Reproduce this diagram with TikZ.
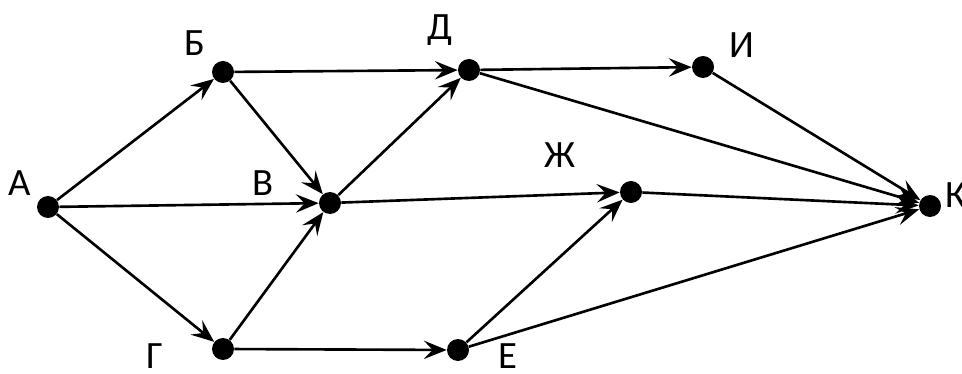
\documentclass[tikz,border=0pt]{standalone}
\usepackage{fontspec}
\setmainfont{Carlito}
\usetikzlibrary{arrows.meta}
\tikzset{
  vertex/.style={circle, fill=black, inner sep=0pt, minimum size=0.44cm},
  lbl/.style={inner sep=0pt, font=\fontsize{22}{26}\selectfont},
  arc/.style={line width=1.5pt, -{Stealth[length=13pt, width=10.5pt, inset=5pt]}}
}
\begin{document}
\begin{tikzpicture}[x=0.02cm, y=-0.02cm]
\useasboundingbox (0,0) rectangle (962,374);
\node[vertex] (A) at (48,207) {};
\node[vertex] (B) at (223,72) {};
\node[vertex] (V) at (330,203) {};
\node[vertex] (G) at (223,349) {};
\node[vertex] (D) at (469,70) {};
\node[vertex] (E) at (458,350) {};
\node[vertex] (Zh) at (631,192) {};
\node[vertex] (I) at (703,67) {};
\node[vertex] (K) at (930,206) {};
\node[lbl] (lA) at (20,183) {А};
\node[lbl] (lB) at (195,43) {Б};
\node[lbl] (lV) at (263,183) {В};
\node[lbl] (lG) at (155,356) {Г};
\node[lbl] (lD) at (440,30) {Д};
\node[lbl] (lE) at (508,356) {Е};
\node[lbl] (lZh) at (560,155) {Ж};
\node[lbl] (lI) at (742,45) {И};
\node[lbl, anchor=west] (lK) at (945,195) {К};
\draw[arc] (A) -- (B);
\draw[arc] (A) -- (V);
\draw[arc] (A) -- (G);
\draw[arc] (B) -- (D);
\draw[arc] (B) -- (V);
\draw[arc] (G) -- (V);
\draw[arc] (G) -- (E);
\draw[arc] (V) -- (D);
\draw[arc] (V) -- (Zh);
\draw[arc] (D) -- (I);
\draw[arc] (D) -- (K);
\draw[arc] (I) -- (K);
\draw[arc] (Zh) -- (K);
\draw[arc] (E) -- (Zh);
\draw[arc] (E) -- (K);
\end{tikzpicture}
\end{document}
